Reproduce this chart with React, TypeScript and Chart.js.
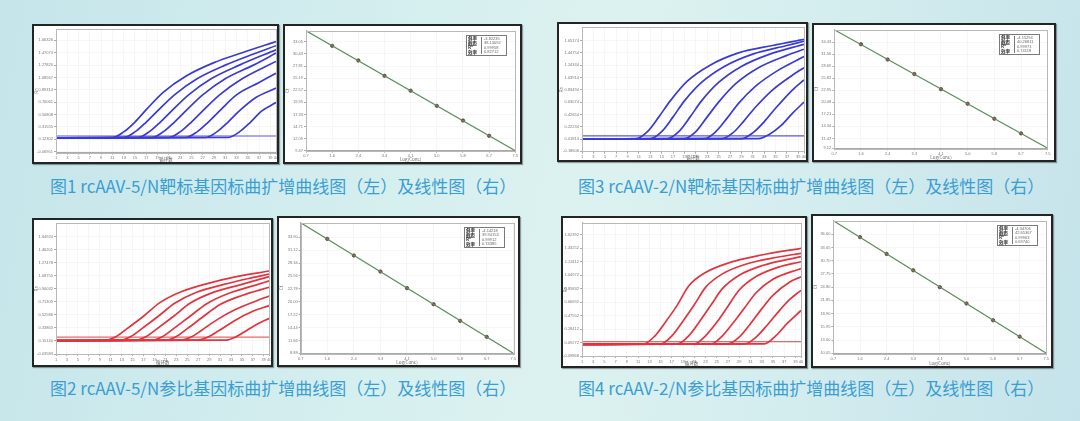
import React, { useEffect, useRef } from 'react';
import { Chart, registerables } from 'chart.js';
Chart.register(...registerables);

// ---------- shared axis data ----------
const AMP_XTICKS = [1, 3, 5, 7, 9, 11, 13, 15, 17, 19, 21, 23, 25, 27, 29, 31, 33, 35, 37, 39, 40];
const AMP_YTICKS = [0, 1, 2, 3, 4, 5, 6, 7, 8, 9];
const STD_XTICKS = [0.7, 1.55, 2.4, 3.25, 4.1, 4.95, 5.8, 6.65, 7.5];
const STD_XLABELS = ['0.7', '1.6', '2.4', '3.3', '4.1', '5.0', '5.8', '6.7', '7.5'];
const STD_POINT_X = [1.55, 2.4, 3.25, 4.1, 4.95, 5.8, 6.65];
const STD_LEGEND_LABELS = ['斜率', '截距', 'R²', '效率'];

// ---------- 图1 amplification (blue) ----------
const AMP1_YLABELS = ['-0.06951', '0.12302', '0.31555', '0.50808', '0.70061', '0.89314', '1.08567', '1.27820', '1.47073', '1.66326'];
const AMP1_RANGE = [-0.08, 9.92];
const AMP1_THRESHOLD = 1.27;
const AMP1_CURVES = [
  [[1, 1.12], [11, 1.15], [13, 1.6], [15, 2.4], [17, 3.4], [20, 4.8], [24, 6.1], [29, 7.2], [34, 8.0], [40, 8.9]],
  [[1, 1.12], [13, 1.15], [15, 1.6], [17, 2.4], [19, 3.3], [22, 4.6], [26, 5.9], [31, 7.0], [36, 7.9], [40, 8.57]],
  [[1, 1.12], [15.5, 1.15], [17.5, 1.6], [19.5, 2.4], [21.5, 3.3], [24.5, 4.6], [28.5, 5.9], [33.5, 7.0], [40, 8.24]],
  [[1, 1.12], [18, 1.15], [20, 1.6], [22, 2.4], [24, 3.3], [27, 4.6], [31, 5.9], [36, 7.0], [40, 7.97]],
  [[1, 1.12], [21, 1.15], [23, 1.6], [25, 2.4], [27, 3.3], [30, 4.6], [34, 5.9], [40, 7.3]],
  [[1, 1.12], [24, 1.15], [26, 1.6], [28, 2.4], [30, 3.3], [33, 4.6], [37, 5.6], [40, 6.35]],
  [[1, 1.12], [27.5, 1.15], [29.5, 1.6], [31.5, 2.4], [33.5, 3.3], [36.5, 4.4], [40, 5.14]],
  [[1, 1.12], [31.5, 1.15], [33.5, 1.6], [35.5, 2.4], [37.5, 3.3], [40, 3.97]],
];

// ---------- 图2 amplification (red) ----------
const AMP2_YLABELS = ['-0.03583', '0.15140', '0.33863', '0.52586', '0.71309', '0.90032', '1.08755', '1.27478', '1.46201', '1.64924'];
const AMP2_RANGE = [0, 10.05];
const AMP2_THRESHOLD = 1.3;
const AMP2_CURVES = [
  [[1, 1.03], [10, 1.06], [12, 1.35], [14, 1.95], [17, 2.9], [20, 3.95], [24, 4.8], [29, 5.45], [34, 5.95], [40, 6.38]],
  [[1, 1.03], [12.7, 1.06], [14.7, 1.35], [16.7, 1.95], [19.7, 2.9], [22.7, 3.9], [26.7, 4.75], [31.7, 5.35], [36.7, 5.85], [40, 6.15]],
  [[1, 1.03], [15.5, 1.06], [17.5, 1.35], [19.5, 1.95], [22.5, 2.9], [25.5, 3.9], [29.5, 4.7], [34.5, 5.3], [40, 5.95]],
  [[1, 1.03], [18.5, 1.06], [20.5, 1.35], [22.5, 1.95], [25.5, 2.9], [28.5, 3.85], [32.5, 4.65], [37.5, 5.3], [40, 5.62]],
  [[1, 1.03], [21, 1.06], [23, 1.35], [25, 1.95], [28, 2.9], [31, 3.8], [35, 4.5], [40, 5.13]],
  [[1, 1.03], [23.7, 1.06], [25.7, 1.3], [27.7, 1.85], [30.7, 2.7], [33.7, 3.4], [37.7, 4.1], [40, 4.46]],
  [[1, 1.03], [26.8, 1.06], [28.8, 1.3], [30.8, 1.8], [33.8, 2.6], [36.8, 3.25], [40, 3.72]],
  [[1, 1.03], [32, 1.06], [34, 1.35], [36, 1.85], [38, 2.35], [40, 2.74]],
];

// ---------- 图3 amplification (blue) ----------
const AMP3_YLABELS = ['-0.18606', '0.01814', '0.22234', '0.42654', '0.63074', '0.83494', '1.03914', '1.24334', '1.44754', '1.65174'];
const AMP3_RANGE = [-0.03, 10.08];
const AMP3_THRESHOLD = 1.25;
const AMP3_CURVES = [
  [[1, 1.0], [10.5, 1.03], [12.5, 1.6], [14.5, 2.8], [16.5, 4.1], [19.5, 5.7], [23.5, 7.0], [28.5, 8.0], [34.5, 8.6], [40, 9.1]],
  [[1, 1.0], [13, 1.03], [15, 1.6], [17, 2.8], [19, 4.1], [22, 5.6], [26, 6.9], [31, 7.9], [37, 8.6], [40, 8.95]],
  [[1, 1.0], [16, 1.03], [18, 1.6], [20, 2.8], [22, 4.1], [25, 5.6], [29, 6.9], [34, 7.9], [40, 8.7]],
  [[1, 1.0], [19, 1.03], [21, 1.6], [23, 2.8], [25, 4.0], [28, 5.5], [32, 6.8], [37, 7.8], [40, 8.3]],
  [[1, 1.0], [22.5, 1.03], [24.5, 1.6], [26.5, 2.7], [28.5, 3.9], [31.5, 5.3], [35.5, 6.6], [40, 7.7]],
  [[1, 1.0], [25.5, 1.03], [27.5, 1.5], [29.5, 2.5], [31.5, 3.6], [34.5, 5.0], [38, 6.2], [40, 6.8]],
  [[1, 1.0], [29, 1.03], [31, 1.5], [33, 2.4], [35, 3.5], [38, 5.0], [40, 5.8]],
  [[1, 1.0], [32, 1.03], [34, 1.4], [36, 2.1], [38, 3.1], [40, 4.0]],
];

// ---------- 图4 amplification (red) ----------
const AMP4_YLABELS = ['-0.09868', '0.09272', '0.28412', '0.47552', '0.66692', '0.85832', '1.04972', '1.24112', '1.43252', '1.62392'];
const AMP4_RANGE = [0, 9.9];
const AMP4_THRESHOLD = 1.07;
const AMP4_CURVES = [
  [[1, 0.87], [12, 0.9], [14, 1.5], [16, 2.6], [18, 3.8], [20, 5.2], [23, 6.2], [27, 6.9], [33, 7.5], [40, 8.0]],
  [[1, 0.87], [15, 0.9], [17, 1.5], [19, 2.6], [21, 3.8], [23, 5.1], [26, 6.1], [30, 6.8], [36, 7.35], [40, 7.63]],
  [[1, 0.87], [18, 0.9], [20, 1.5], [22, 2.6], [24, 3.8], [26, 5.0], [29, 6.0], [33, 6.7], [40, 7.38]],
  [[1, 0.87], [21, 0.9], [23, 1.5], [25, 2.5], [27, 3.7], [29, 4.9], [32, 5.9], [36, 6.6], [40, 7.0]],
  [[1, 0.87], [24, 0.9], [26, 1.5], [28, 2.5], [30, 3.6], [32, 4.7], [35, 5.7], [40, 6.5]],
  [[1, 0.87], [27, 0.9], [29, 1.4], [31, 2.4], [33, 3.5], [35, 4.5], [38, 5.5], [40, 5.88]],
  [[1, 0.87], [30, 0.9], [32, 1.4], [34, 2.3], [36, 3.3], [38, 4.2], [40, 4.88]],
  [[1, 0.87], [33.5, 0.9], [35.5, 1.5], [37.5, 2.4], [40, 3.38]],
];

// ---------- standard curves (Ct vs log conc) ----------
const STD1_YTICKS = [9.47, 12.09, 14.71, 17.33, 19.95, 22.57, 25.19, 27.81, 30.43, 33.05];
const STD1_FIT = [35.46, 9.47];
const STD1_CT = [32.18, 29.02, 25.69, 22.47, 19.18, 16.01, 12.7];
const STD1_LEGEND = ['-3.82235', '38.13092', '0.99958', '0.82712'];

const STD2_YTICKS = [8.88, 11.66, 14.44, 17.22, 20.0, 22.78, 25.56, 28.34, 31.12, 33.9];
const STD2_FIT = [37.04, 8.88];
const STD2_CT = [33.55, 29.96, 26.51, 22.94, 19.47, 15.88, 12.43];
const STD2_LEGEND = ['-4.14218', '39.94153', '0.99912', '0.74385'];

const STD3_YTICKS = [9.12, 11.47, 14.34, 17.21, 20.08, 22.95, 25.82, 28.69, 31.56, 34.43];
const STD3_FIT = [37.36, 9.12];
const STD3_CT = [33.9, 30.27, 26.8, 23.21, 19.73, 16.15, 12.67];
const STD3_LEGEND = ['-4.15294', '40.26811', '0.99971', '0.74118'];

const STD4_YTICKS = [10.05, 13.0, 15.95, 18.9, 21.85, 24.8, 27.75, 30.7, 33.65, 36.6];
const STD4_FIT = [39.61, 10.05];
const STD4_CT = [35.95, 32.2, 28.55, 24.8, 21.16, 17.42, 13.76];
const STD4_LEGEND = ['-4.34706', '42.65367', '0.99963', '0.69740'];

const CAPTIONS = [
  '图1 rcAAV-5/N靶标基因标曲扩增曲线图（左）及线性图（右）',
  '图2 rcAAV-5/N参比基因标曲扩增曲线图（左）及线性图（右）',
  '图3 rcAAV-2/N靶标基因标曲扩增曲线图（左）及线性图（右）',
  '图4 rcAAV-2/N参比基因标曲扩增曲线图（左）及线性图（右）',
];

// ---------- helpers ----------
type Box = { x: number; y: number; w: number; h: number; pl: number; pt: number; pr: number; pb: number };
const B = 2; // border width
const FONT = "'Liberation Sans', 'DejaVu Sans', sans-serif";
const CJK = "'Noto Sans CJK SC', 'Liberation Sans', sans-serif";
const GRID = '#f6f6f6';

const framePlugin = {
  id: 'plotFrame',
  afterDraw(chart: any) {
    const { ctx, chartArea: a } = chart;
    ctx.save();
    ctx.strokeStyle = '#b8b8b8';
    ctx.lineWidth = 1;
    ctx.strokeRect(Math.round(a.left) + 0.5, Math.round(a.top) + 0.5, Math.round(a.right - a.left), Math.round(a.bottom - a.top));
    ctx.restore();
  },
};

const legendBoxPlugin = {
  id: 'legendBox',
  afterDraw(chart: any, _args: any, opts: any) {
    if (!opts || !opts.values) return;
    const { ctx, chartArea: a } = chart;
    const w = 40, h = 20;
    const x = Math.round(a.right - 49), y = Math.round(a.top + 4);
    ctx.save();
    ctx.fillStyle = '#ffffff';
    ctx.fillRect(x, y, w, h);
    ctx.strokeStyle = '#7a7a7a';
    ctx.lineWidth = 1;
    ctx.strokeRect(x + 0.5, y + 0.5, w, h);
    ctx.beginPath();
    ctx.moveTo(x + 15.5, y + 2);
    ctx.lineTo(x + 15.5, y + h - 1);
    ctx.stroke();
    ctx.textBaseline = 'middle';
    ctx.font = `bold 4.5px ${CJK}`;
    ctx.fillStyle = '#333';
    opts.labels.forEach((t: string, i: number) => ctx.fillText(t, x + 2, y + 3.5 + i * 4.5));
    ctx.font = `4px ${FONT}`;
    ctx.fillStyle = '#666';
    opts.values.forEach((t: string, i: number) => ctx.fillText(t, x + 18, y + 3.5 + i * 4.5));
    ctx.restore();
  },
};

function fitY(size: number) {
  return (s: any) => {
    s.width = size;
    s.paddingTop = 0; s.paddingBottom = 0; s.paddingLeft = 0; s.paddingRight = 0;
  };
}
function fitX(size: number) {
  return (s: any) => {
    s.height = size;
    s.paddingTop = 0; s.paddingBottom = 0; s.paddingLeft = 0; s.paddingRight = 0;
  };
}
function geometry(b: Box) {
  const il = b.x + B, it = b.y + B, ir = b.x + b.w - B, ib = b.y + b.h - B;
  return { yW: b.pl - il, xH: ib - b.pb, padTop: b.pt - it, padRight: ir - b.pr };
}

const tickFont = { family: FONT, size: 4 };
const titleFont = { family: CJK, size: 4.5 };

function ampConfig(b: Box, curves: number[][][], thr: number, range: number[], ylabels: string[], color: string, thrColor: string): any {
  const g = geometry(b);
  const datasets: any[] = curves.map((pts) => ({
    data: pts.map(([x, y]) => ({ x, y })),
    borderColor: color,
    borderWidth: 1.7,
    pointRadius: 0,
    cubicInterpolationMode: 'monotone',
    fill: false,
  }));
  datasets.push({
    data: [{ x: 1, y: thr }, { x: 40, y: thr }],
    borderColor: thrColor,
    borderWidth: 1.2,
    pointRadius: 0,
    fill: false,
  });
  return {
    type: 'line',
    data: { datasets },
    plugins: [framePlugin],
    options: {
      animation: false,
      responsive: false,
      devicePixelRatio: 1,
      layout: { padding: { top: g.padTop, right: g.padRight, left: 0, bottom: 0 } },
      plugins: { legend: { display: false }, tooltip: { enabled: false } },
      scales: {
        x: {
          type: 'linear', min: 1, max: 40,
          afterBuildTicks: (s: any) => { s.ticks = AMP_XTICKS.map((v) => ({ value: v })); },
          afterFit: fitX(g.xH),
          ticks: { font: tickFont, color: '#777', padding: 1, autoSkip: false, maxRotation: 0, callback: (v: number) => String(v) },
          grid: { color: GRID, tickLength: 2, tickColor: '#aaa' },
          border: { color: '#aaa' },
          title: { display: true, text: '循环数', font: titleFont, color: '#666', padding: 0 },
        },
        y: {
          type: 'linear', min: range[0], max: range[1],
          afterBuildTicks: (s: any) => { s.ticks = AMP_YTICKS.map((v) => ({ value: v })); },
          afterFit: fitY(g.yW),
          ticks: { font: tickFont, color: '#777', padding: 1, autoSkip: false, callback: (_v: number, i: number) => ylabels[i] },
          grid: { color: GRID, tickLength: 2, tickColor: '#aaa' },
          border: { color: '#aaa' },
          title: { display: true, text: 'Rn', font: titleFont, color: '#666', padding: 0 },
        },
      },
    },
  };
}

function stdConfig(b: Box, yticks: number[], fit: number[], cts: number[], legend: string[]): any {
  const g = geometry(b);
  return {
    type: 'line',
    data: {
      datasets: [
        {
          data: [{ x: STD_XTICKS[0], y: fit[0] }, { x: STD_XTICKS[STD_XTICKS.length - 1], y: fit[1] }],
          borderColor: '#5d8d5f', borderWidth: 1.3, pointRadius: 0, fill: false,
        },
        {
          data: STD_POINT_X.map((x, i) => ({ x, y: cts[i] })),
          showLine: false, pointRadius: 1.7, pointBackgroundColor: '#b8403a', pointBorderColor: '#3a3a3a', pointBorderWidth: 0.7,
        },
      ],
    },
    plugins: [framePlugin, legendBoxPlugin],
    options: {
      animation: false,
      responsive: false,
      devicePixelRatio: 1,
      layout: { padding: { top: g.padTop, right: g.padRight, left: 0, bottom: 0 } },
      plugins: {
        legend: { display: false }, tooltip: { enabled: false },
        legendBox: { labels: STD_LEGEND_LABELS, values: legend },
      },
      scales: {
        x: {
          type: 'linear', min: STD_XTICKS[0], max: STD_XTICKS[STD_XTICKS.length - 1],
          afterBuildTicks: (s: any) => { s.ticks = STD_XTICKS.map((v) => ({ value: v })); },
          afterFit: fitX(g.xH),
          ticks: { font: tickFont, color: '#777', padding: 1, autoSkip: false, maxRotation: 0, callback: (_v: number, i: number) => STD_XLABELS[i] },
          grid: { color: GRID, tickLength: 2, tickColor: '#aaa' },
          border: { color: '#aaa' },
          title: { display: true, text: 'Log(Conc)', font: titleFont, color: '#666', padding: 0 },
        },
        y: {
          type: 'linear', min: fit[1], max: fit[0],
          afterBuildTicks: (s: any) => { s.ticks = yticks.map((v) => ({ value: v })); },
          afterFit: fitY(g.yW),
          ticks: { font: tickFont, color: '#777', padding: 1, autoSkip: false, callback: (v: number) => Number(v).toFixed(2) },
          grid: { color: GRID, tickLength: 2, tickColor: '#aaa' },
          border: { color: '#aaa' },
          title: { display: true, text: 'Ct', font: titleFont, color: '#666', padding: 0 },
        },
      },
    },
  };
}

function ChartBox({ box, make }: { box: Box; make: (b: Box) => any }) {
  const ref = useRef<HTMLCanvasElement | null>(null);
  useEffect(() => {
    if (!ref.current) return;
    const c = new Chart(ref.current, make(box));
    return () => c.destroy();
  }, []);
  return (
    <div
      style={{
        position: 'absolute', left: box.x, top: box.y, width: box.w, height: box.h,
        boxSizing: 'border-box', border: `${B}px solid #242424`, background: '#fff',
        boxShadow: '1px 1px 1px rgba(0,0,0,0.35)',
      }}
    >
      <canvas ref={ref} width={box.w - 2 * B} height={box.h - 2 * B} style={{ display: 'block' }} />
    </div>
  );
}

const BLUE = '#3b3bd4';
const BLUE_THR = '#5656de';
const RED = '#e2343e';
const RED_THR = '#ea6868';

const A1: Box = { x: 32, y: 24, w: 247, h: 140, pl: 56, pt: 29, pr: 276, pb: 152.7 };
const S1: Box = { x: 283, y: 24, w: 239, h: 140, pl: 306, pt: 29.5, pr: 516.5, pb: 150.7 };
const A3: Box = { x: 557, y: 22, w: 251, h: 140, pl: 582, pt: 27.3, pr: 804, pb: 151.7 };
const S3: Box = { x: 812, y: 23, w: 244, h: 139, pl: 834.3, pt: 28.3, pr: 1047.7, pb: 148.3 };
const A2: Box = { x: 32, y: 218, w: 241, h: 149, pl: 56, pt: 223.3, pr: 269.3, pb: 354 };
const S2: Box = { x: 277, y: 216, w: 243, h: 151, pl: 300.7, pt: 222.7, pr: 515, pb: 353.3 };
const A4: Box = { x: 561, y: 216, w: 246, h: 152, pl: 582, pt: 222.7, pr: 801, pb: 356 };
const S4: Box = { x: 811, y: 214, w: 242, h: 154, pl: 833.4, pt: 220, pr: 1046.8, pb: 353.3 };

function Caption({ text, x, cy }: { text: string; x: number; cy: number }) {
  return (
    <div
      style={{
        position: 'absolute', left: x, top: cy - 12, height: 24, lineHeight: '24px',
        fontFamily: CJK, fontSize: 17, color: '#3a9ed2', whiteSpace: 'nowrap',
      }}
    >
      {text}
    </div>
  );
}

export default function App() {
  useEffect(() => {
    document.body.style.margin = '0';
    document.body.style.overflow = 'hidden';
  }, []);
  return (
    <div
      style={{
        position: 'absolute', left: 0, top: 0, width: 1080, height: 421, overflow: 'hidden',
        background: 'linear-gradient(100deg, #c5e5ea 0%, #d6efef 38%, #dcf2f0 55%, #d3ecee 75%, #c4e3ea 100%)',
      }}
    >
      <ChartBox box={A1} make={(b) => ampConfig(b, AMP1_CURVES, AMP1_THRESHOLD, AMP1_RANGE, AMP1_YLABELS, BLUE, BLUE_THR)} />
      <ChartBox box={S1} make={(b) => stdConfig(b, STD1_YTICKS, STD1_FIT, STD1_CT, STD1_LEGEND)} />
      <ChartBox box={A3} make={(b) => ampConfig(b, AMP3_CURVES, AMP3_THRESHOLD, AMP3_RANGE, AMP3_YLABELS, BLUE, BLUE_THR)} />
      <ChartBox box={S3} make={(b) => stdConfig(b, STD3_YTICKS, STD3_FIT, STD3_CT, STD3_LEGEND)} />
      <ChartBox box={A2} make={(b) => ampConfig(b, AMP2_CURVES, AMP2_THRESHOLD, AMP2_RANGE, AMP2_YLABELS, RED, RED_THR)} />
      <ChartBox box={S2} make={(b) => stdConfig(b, STD2_YTICKS, STD2_FIT, STD2_CT, STD2_LEGEND)} />
      <ChartBox box={A4} make={(b) => ampConfig(b, AMP4_CURVES, AMP4_THRESHOLD, AMP4_RANGE, AMP4_YLABELS, RED, RED_THR)} />
      <ChartBox box={S4} make={(b) => stdConfig(b, STD4_YTICKS, STD4_FIT, STD4_CT, STD4_LEGEND)} />
      <Caption text={CAPTIONS[0]} x={50} cy={186} />
      <Caption text={CAPTIONS[2]} x={578} cy={186} />
      <Caption text={CAPTIONS[1]} x={50} cy={388} />
      <Caption text={CAPTIONS[3]} x={578} cy={388} />
    </div>
  );
}
